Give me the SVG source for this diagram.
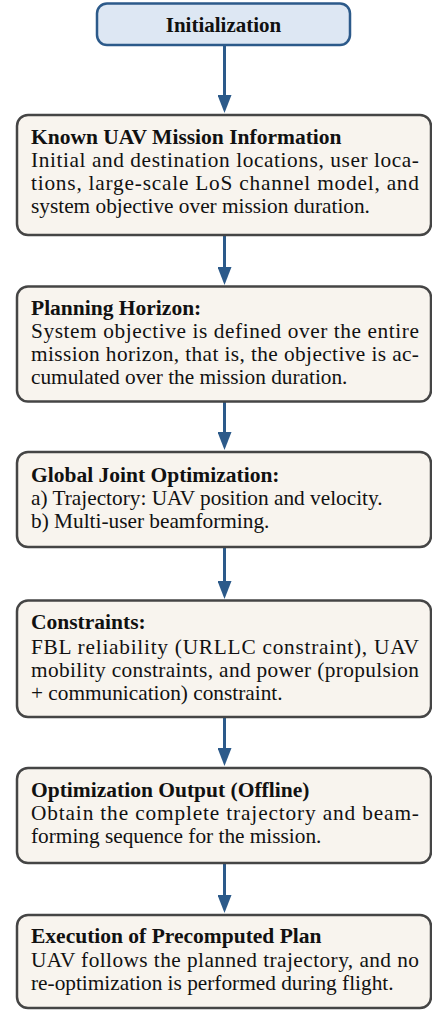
<svg xmlns="http://www.w3.org/2000/svg" width="432" height="1010" viewBox="0 0 432 1010">
<defs>
<marker id="ah" viewBox="0 0 18 14" refX="6" refY="7" markerWidth="18" markerHeight="14" markerUnits="userSpaceOnUse" orient="auto">
<path d="M0,0 L18,7 L0,14 z" fill="#2c5a8a"/>
</marker>
<style>
.box{fill:#f8f4ee;stroke:#454545;stroke-width:2.5}
.start{fill:#dde7f3;stroke:#2c5a8a;stroke-width:2.5}
.t{font-family:"Liberation Serif","Times New Roman",serif;font-weight:bold;font-size:20.5px;fill:#111}
.b{font-family:"Liberation Serif","Times New Roman",serif;font-size:20.3px;fill:#111}
.h{font-family:"Liberation Serif","Times New Roman",serif;font-weight:bold;font-size:21px;fill:#111}
.c{stroke:#2c5a8a;stroke-width:3;fill:none;marker-end:url(#ah)}
</style>
</defs>
<rect width="432" height="1010" fill="#ffffff"/>
<g id="connectors">
<line class="c" x1="224.5" y1="45" x2="224.5" y2="101"/>
<line class="c" x1="224.5" y1="235" x2="224.5" y2="273"/>
<line class="c" x1="224.5" y1="401" x2="224.5" y2="438"/>
<line class="c" x1="224.5" y1="547" x2="224.5" y2="587"/>
<line class="c" x1="224.5" y1="717" x2="224.5" y2="754"/>
<line class="c" x1="224.5" y1="863" x2="224.5" y2="901"/>
</g>
<g id="init">
<rect class="start" x="97" y="3.5" width="253" height="41.5" rx="10"/>
<text class="h" x="223.5" y="32" text-anchor="middle">Initialization</text>
</g>
<g id="known">
<rect class="box" x="17" y="115" width="414" height="120" rx="11"/>
<g transform="matrix(1.05,0,0,1,-1.55,0)">
<text class="t" x="31" y="144">Known UAV Mission Information</text>
<text class="b" x="31" y="167" textLength="369.5" lengthAdjust="spacing">Initial and destination locations, user loca-</text>
<text class="b" x="31" y="190" textLength="369.5" lengthAdjust="spacing">tions, large-scale LoS channel model, and</text>
<text class="b" x="31" y="213">system objective over mission duration.</text>
</g>
</g>
<g id="horizon">
<rect class="box" x="17" y="286.5" width="414" height="115" rx="11"/>
<g transform="matrix(1.05,0,0,1,-1.55,0)">
<text class="t" x="31" y="315">Planning Horizon:</text>
<text class="b" x="31" y="338" textLength="369.5" lengthAdjust="spacing">System objective is defined over the entire</text>
<text class="b" x="31" y="361" textLength="369.5" lengthAdjust="spacing">mission horizon, that is, the objective is ac-</text>
<text class="b" x="31" y="384">cumulated over the mission duration.</text>
</g>
</g>
<g id="global">
<rect class="box" x="17" y="452" width="414" height="95" rx="11"/>
<g transform="matrix(1.05,0,0,1,-1.55,0)">
<text class="t" x="31" y="482">Global Joint Optimization:</text>
<text class="b" x="31" y="505">a) Trajectory: UAV position and velocity.</text>
<text class="b" x="31" y="528">b) Multi-user beamforming.</text>
</g>
</g>
<g id="constraints">
<rect class="box" x="17" y="600.5" width="414" height="116.5" rx="11"/>
<g transform="matrix(1.05,0,0,1,-1.55,0)">
<text class="t" x="31" y="629">Constraints:</text>
<text class="b" x="31" y="654" textLength="369.5" lengthAdjust="spacing">FBL reliability (URLLC constraint), UAV</text>
<text class="b" x="31" y="677" textLength="369.5" lengthAdjust="spacing">mobility constraints, and power (propulsion</text>
<text class="b" x="31" y="700">+ communication) constraint.</text>
</g>
</g>
<g id="output">
<rect class="box" x="17" y="768" width="414" height="95" rx="11"/>
<g transform="matrix(1.05,0,0,1,-1.55,0)">
<text class="t" x="31" y="797">Optimization Output (Offline)</text>
<text class="b" x="31" y="820" textLength="369.5" lengthAdjust="spacing">Obtain the complete trajectory and beam-</text>
<text class="b" x="31" y="843">forming sequence for the mission.</text>
</g>
</g>
<g id="execution">
<rect class="box" x="17" y="915" width="414" height="93" rx="11"/>
<g transform="matrix(1.05,0,0,1,-1.55,0)">
<text class="t" x="31" y="943">Execution of Precomputed Plan</text>
<text class="b" x="31" y="967" textLength="369.5" lengthAdjust="spacing">UAV follows the planned trajectory, and no</text>
<text class="b" x="31" y="990">re-optimization is performed during flight.</text>
</g>
</g>
</svg>
